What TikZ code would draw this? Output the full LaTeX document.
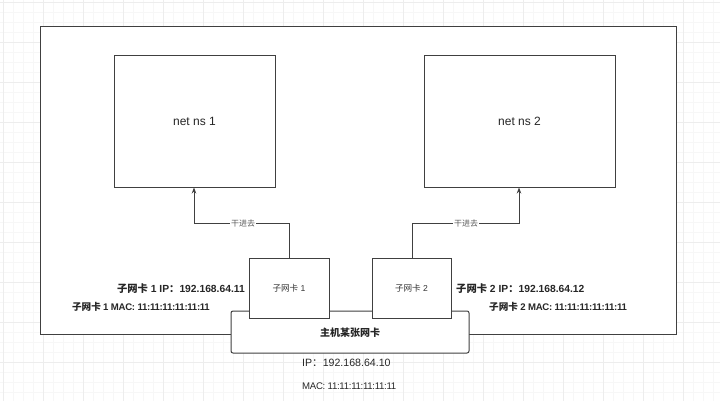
\documentclass[tikz,border=0pt]{standalone}
\usepackage{fontspec}
\setmainfont{Liberation Sans}
\newfontfamily\cjk{Noto Sans CJK SC}
\newfontfamily\tightsans[LetterSpace=-3]{Liberation Sans}
\usetikzlibrary{arrows.meta}
\tikzset{
  box/.style={draw=black!75, line width=1pt, fill=white},
  lbl/.style={font=\fontsize{10.3}{12}\selectfont\bfseries, text=black!85, inner sep=0pt},
  maclbl/.style={font=\fontsize{9.6}{12}\selectfont\tightsans\bfseries, text=black!85, inner sep=0pt},
  small/.style={font=\fontsize{8.6}{10}\selectfont, text=black!80, inner sep=0pt},
  conn/.style={draw=black!75, line width=0.9pt},
  arrow/.style={conn, -{Stealth[length=6pt,width=4.5pt]}},
  edgelbl/.style={font=\fontsize{8}{9}\selectfont, text=black!65, fill=white, inner sep=1pt},
}
\begin{document}
\begin{tikzpicture}[x=1pt,y=-1pt]
\useasboundingbox (0,0) rectangle (720,401);
\fill[white] (0,0) rectangle (720,401);
% background grid
\foreach \i in {-7,3,...,720} \draw[black!3, line width=0.4pt] (\i,0) -- (\i,401);
\foreach \j in {2,12,...,401} \draw[black!3, line width=0.4pt] (0,\j) -- (720,\j);
\foreach \i in {3,43,...,720} \draw[black!7, line width=0.5pt] (\i,0) -- (\i,401);
\foreach \j in {2,42,...,401} \draw[black!7, line width=0.5pt] (0,\j) -- (720,\j);

% outer frame
\node[box, minimum width=636pt, minimum height=307pt, inner sep=0pt] (frame) at (358,180.5) {};

% namespaces
\node[box, minimum width=161pt, minimum height=131pt, inner sep=0pt, font=\fontsize{12}{14}\selectfont, text=black!85] (ns1) at (194.5,121.5) {net ns 1};
\node[box, minimum width=191pt, minimum height=131pt, inner sep=0pt, font=\fontsize{12}{14}\selectfont, text=black!85] (ns2) at (519.5,121.5) {net ns 2};

% host nic
\node[box, rounded corners=2pt, minimum width=238pt, minimum height=42pt, inner sep=0pt] (host) at (350,332) {};
\node[font=\fontsize{10}{12}\selectfont\bfseries, text=black!85, inner sep=0pt] (hosttxt) at (350,333) {\cjk\bfseries 主机某张网卡};

% sub nics
\node[box, minimum width=80pt, minimum height=60pt, inner sep=0pt, small] (c1) at (289,288) {{\cjk 子网卡} 1};
\node[box, minimum width=79pt, minimum height=60pt, inner sep=0pt, small] (c2) at (411.5,288) {{\cjk 子网卡} 2};

% connectors
\coordinate (k1a) at (289,223);
\coordinate (k1b) at (194,223);
\draw[arrow] (c1.north) -- (k1a) -- (k1b) -- (ns1.south -| k1b);
\node[edgelbl] (e1) at (243,223) {\cjk 干进去};
\coordinate (k2a) at (412,223);
\coordinate (k2b) at (519,223);
\draw[arrow] (c2.north -| k2a) -- (k2a) -- (k2b) -- (ns2.south -| k2b);
\node[edgelbl] (e2) at (466,223) {\cjk 干进去};

% labels
\node[lbl, anchor=east] (ip1) at (245,289) {{\cjk\bfseries 子网卡} 1 IP{\cjk\bfseries ：}192.168.64.11};
\node[maclbl, anchor=east] (mac1) at (210,307) {{\cjk\bfseries 子网卡} 1 MAC: 11:11:11:11:11:11};
\node[lbl, anchor=west] (ip2) at (456,289) {{\cjk\bfseries 子网卡} 2 IP{\cjk\bfseries ：}192.168.64.12};
\node[maclbl, anchor=west] (mac2) at (489,307) {{\cjk\bfseries 子网卡} 2 MAC: 11:11:11:11:11:11};
\node[lbl, anchor=west, font=\fontsize{10.6}{12}\selectfont] (hip) at (302,363) {IP{\cjk ：}192.168.64.10};
\node[lbl, anchor=west, font=\fontsize{9.6}{12}\selectfont\tightsans] (hmac) at (302,386) {MAC: 11:11:11:11:11:11};
\end{tikzpicture}
\end{document}
